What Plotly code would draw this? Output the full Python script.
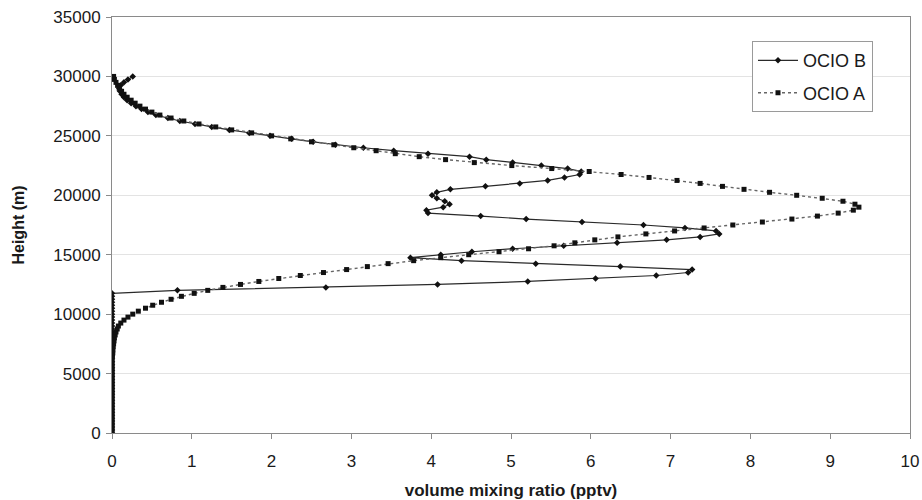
import plotly.graph_objects as go

# Heights (m): sampling grid every 250 m from 0 to 30000
heights = list(range(0, 30001, 250))

# OClO B (solid line) - volume mixing ratio (pptv)
ocio_b = [
    0.0, 0.0, 0.0, 0.0, 0.0, 0.0, 0.0, 0.0, 0.0, 0.0, 0.0, 0.0,   # 0 - 2750
    0.0, 0.0, 0.0, 0.0, 0.0, 0.0, 0.0, 0.0, 0.0, 0.0, 0.0, 0.0,   # 3000 - 5750
    0.0, 0.0, 0.0, 0.0, 0.0, 0.0, 0.0, 0.0, 0.0, 0.0, 0.0, 0.0,   # 6000 - 8750
    0.0, 0.0, 0.0, 0.0, 0.0, 0.0, 0.0, 0.0, 0.0, 0.0, 0.0, 0.0,   # 9000 - 11750
    0.82, 2.68, 4.08, 5.21, 6.06, 6.82, 7.22, 7.27, 6.37, 5.31, 4.38, 3.74,
    4.12, 4.51, 5.02, 5.66, 6.33, 6.95, 7.37, 7.61, 7.57, 7.18, 6.66, 5.89,
    5.19, 4.62, 3.96, 3.94, 4.15, 4.23, 4.17, 4.07, 4.01, 4.07, 4.24, 4.68,
    5.11, 5.46, 5.67, 5.86, 5.88, 5.71, 5.38, 5.02, 4.69, 4.48, 3.96, 3.53,
    3.15, 2.80, 2.52, 2.25, 1.98, 1.72, 1.47, 1.25, 1.04, 0.85, 0.70, 0.55,
    0.45, 0.37, 0.30, 0.24, 0.19, 0.15, 0.12, 0.10, 0.09, 0.11, 0.15, 0.20,
    0.26,
]

# OClO A (dotted line) - volume mixing ratio (pptv)
ocio_a = [
    0.0, 0.0, 0.0, 0.0, 0.0, 0.0, 0.0, 0.0, 0.0, 0.0, 0.0, 0.0,   # 0 - 2750
    0.0, 0.0, 0.0, 0.0, 0.0, 0.0, 0.0, 0.0, 0.0, 0.0, 0.0, 0.0,   # 3000 - 5750
    0.0,                                                         # 6000
    0.0, 0.005, 0.01, 0.01, 0.015, 0.02, 0.025, 0.03, 0.04, 0.05, 0.065, 0.08,
    0.11, 0.15, 0.20, 0.26, 0.33, 0.42, 0.51, 0.62, 0.74, 0.87, 1.03, 1.20,
    1.39, 1.61, 1.84, 2.09, 2.36, 2.65, 2.94, 3.20, 3.46, 3.78, 4.12, 4.47,
    4.85, 5.22, 5.54, 5.80, 6.05, 6.34, 6.69, 7.05, 7.42, 7.78, 8.15, 8.52,
    8.84, 9.10, 9.29, 9.36, 9.31, 9.16, 8.90, 8.58, 8.24, 7.92, 7.65, 7.37,
    7.08, 6.73, 6.38, 5.98, 5.51, 5.01, 4.54, 4.18, 3.85, 3.55, 3.31, 3.03,
    2.78, 2.50, 2.24, 2.00, 1.75, 1.50, 1.30, 1.09, 0.90, 0.74, 0.60, 0.50,
    0.42, 0.35, 0.29, 0.24, 0.19, 0.15, 0.12, 0.09, 0.07, 0.05, 0.03, 0.02,
]

x_ticks = [0, 1, 2, 3, 4, 5, 6, 7, 8, 9, 10]
y_ticks = [0, 5000, 10000, 15000, 20000, 25000, 30000, 35000]

FONT = "Liberation Sans, Arial, sans-serif"

fig = go.Figure()
fig.add_trace(go.Scatter(
    x=ocio_b, y=heights, name="OCIO B", mode="lines+markers",
    legendgroup="b",
    line=dict(color="#2a2a2a", width=1.2, dash="solid"),
    marker=dict(symbol="diamond", size=5, color="#111111"),
))
fig.add_trace(go.Scatter(
    x=ocio_a, y=heights, name="OCIO A", mode="lines+markers",
    legendgroup="a",
    line=dict(color="#666666", width=1.4, dash="dot"),
    marker=dict(symbol="square", size=5, color="#111111"),
))

fig.update_layout(
    width=922, height=500,
    margin=dict(l=112, r=12, t=17, b=67),
    paper_bgcolor="white", plot_bgcolor="white",
    font=dict(family=FONT, size=17, color="#1a1a1a"),
    showlegend=True,
    legend=dict(
        x=0.802, y=0.942, xanchor="left", yanchor="top",
        bordercolor="#9a9a9a", borderwidth=1, bgcolor="white",
        font=dict(family=FONT, size=18, color="#1a1a1a"),
        traceorder="grouped", tracegroupgap=6,
        itemwidth=40, entrywidth=86, entrywidthmode="pixels",
    ),
    xaxis=dict(
        range=[0, 10], tickvals=x_ticks, ticktext=[str(v) for v in x_ticks],
        showgrid=False, zeroline=False, automargin=False,
        showline=True, linecolor="#8a8a8a", linewidth=1, mirror=True,
        ticks="outside", ticklen=5, tickcolor="#8a8a8a",
        tickfont=dict(size=17), ticklabelstandoff=8,
        title=dict(text="<b>volume mixing ratio (pptv)</b>", font=dict(size=17), standoff=13),
    ),
    yaxis=dict(
        range=[0, 35000], tickvals=y_ticks, ticktext=[str(v) for v in y_ticks],
        showgrid=True, gridcolor="#e3e3e3", gridwidth=1, zeroline=False, automargin=False,
        showline=True, linecolor="#8a8a8a", linewidth=1, mirror=True,
        ticks="outside", ticklen=5, tickcolor="#8a8a8a",
        tickfont=dict(size=17), ticklabelstandoff=2,
        title=dict(text="<b>Height (m)</b>", font=dict(size=16), standoff=24),
    ),
)

fig.write_html("out.html")
